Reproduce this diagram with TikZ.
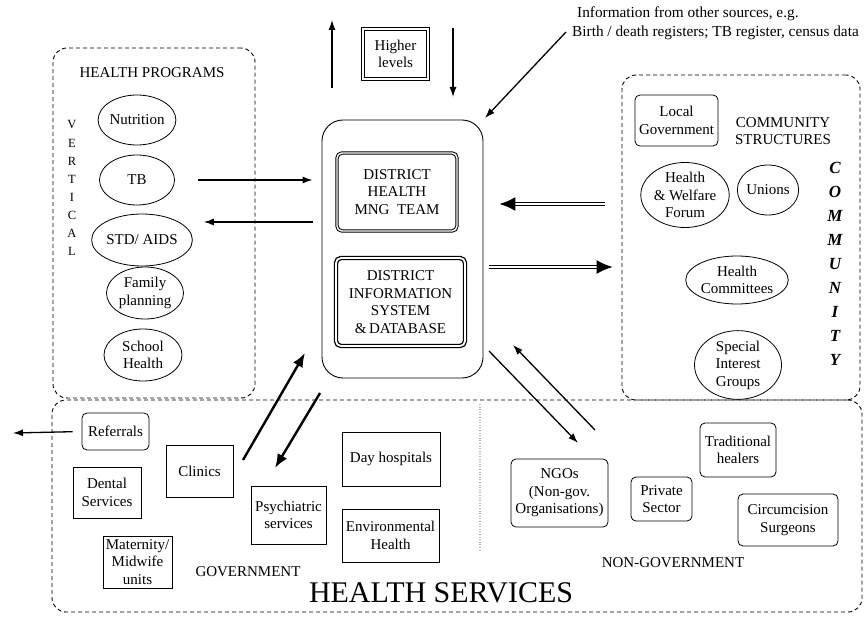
\documentclass[tikz,border=0pt]{standalone}
\usepackage{fontspec}
\setmainfont{Liberation Serif}
\usetikzlibrary{arrows.meta,shapes.geometric}

\begin{document}
\begin{tikzpicture}[x=1pt,y=-1pt,
  txt/.style={font=\fontsize{15}{17.5}\selectfont, align=center, inner sep=0pt},
  grp/.style={draw, dash pattern=on 4pt off 3pt, line width=0.9pt, rounded corners=14pt, inner sep=0pt},
  oval/.style={txt, draw, ellipse, line width=0.8pt},
  box/.style={txt, draw, rectangle, line width=0.8pt},
  rbox/.style={box, rounded corners=5pt},
  arr/.style={line width=1.3pt, -{Latex[length=10pt,width=7pt]}},
  bigarr/.style={line width=2.4pt, -{Latex[length=14pt,width=11pt]}},
  dblarr/.style={double, double distance=1.6pt, line width=1.4pt, -{Latex[length=16pt,width=14pt]}},
  letter/.style={font=\fontsize{12.5}{12.5}\selectfont, inner sep=0pt},
  cletter/.style={font=\fontsize{17}{17}\selectfont\bfseries\itshape, inner sep=0pt}
]
\useasboundingbox (0,0) rectangle (864,620);

% ---- group frames ----
\node[grp, minimum width=202pt, minimum height=350pt] (hp) at (154,223) {};
\node[grp, minimum width=238pt, minimum height=325pt] (comm) at (741,237.5) {};
\node[grp, minimum width=810pt, minimum height=212pt] (hs) at (457,506) {};
\draw[gray!55, line width=1.6pt, dash pattern=on 1pt off 1.6pt] (480,404) -- (480,550);

% ---- health programs ----
\node[txt] (hptitle) at (152,73) {HEALTH PROGRAMS};
\foreach \l [count=\i from 0] in {V,E,R,T,I,C,A,L}
  \node[letter] (vert\i) at (72,125+18.1*\i) {\l};
\node[oval, minimum width=75pt, minimum height=50pt] (nut) at (137,120) {Nutrition};
\node[oval, minimum width=75pt, minimum height=50pt] (tb) at (137,180) {TB};
\node[oval, minimum width=84pt, minimum height=52pt] (std) at (142,240) {STD/ AIDS};
\node[oval, minimum width=77pt, minimum height=52pt] (fam) at (145,293) {Family\\planning};
\node[oval, minimum width=78pt, minimum height=52pt] (sch) at (143,355) {School\\Health};

% ---- district core ----
\node[draw, line width=0.9pt, rounded corners=21pt, minimum width=161pt, minimum height=258pt] (main) at (402.5,249) {};
\node[box, rounded corners=5pt, double, double distance=1.4pt, line width=1pt,
      minimum width=120pt, minimum height=78pt] (dhmt) at (397,192) {DISTRICT\\HEALTH\\MNG\ \ TEAM};
\node[box, rounded corners=5pt, double, double distance=1.8pt, line width=1.3pt,
      minimum width=129pt, minimum height=88pt] (dis) at (400.5,302) {DISTRICT\\INFORMATION\\SYSTEM\\\&\,DATABASE};
\node[box, double, double distance=1.4pt, line width=0.9pt,
      minimum width=65pt, minimum height=50pt] (higher) at (395.5,54) {Higher\\levels};

% ---- other sources ----
\node[font=\fontsize{15.3}{19}\selectfont, align=left, inner sep=0pt, anchor=north west] (info) at (572,7)
  {\hspace*{5pt}Information from other sources, e.g.\\Birth / death registers; TB register, census data};

% ---- community ----
\node[rbox, minimum width=83pt, minimum height=51pt] (localgov) at (676.5,120.5) {Local\\Government};
\node[txt] (cstruct) at (783,131) {COMMUNITY\\STRUCTURES};
\node[oval, minimum width=84pt, minimum height=65pt] (hwf) at (685,195) {Health\\\&\ Welfare\\Forum};
\node[oval, minimum width=52pt, minimum height=50pt] (unions) at (768,190) {Unions};
\node[oval, minimum width=84pt, minimum height=48pt] (hc) at (737,280) {Health\\Committees};
\node[oval, minimum width=87pt, minimum height=58pt] (sig) at (738,365) {Special\\Interest\\Groups};
\foreach \l [count=\i from 0] in {C,O,M,M,U,N,I,T,Y}
  \node[cletter] (com\i) at (835,168+24*\i) {\l};

% ---- government services ----
\node[rbox, minimum width=67pt, minimum height=37pt] (ref) at (115.5,431.5) {Referrals};
\node[box, minimum width=67pt, minimum height=52pt] (clin) at (199.5,471) {Clinics};
\node[box, minimum width=68pt, minimum height=51pt] (dent) at (107,492.5) {Dental\\Services};
\node[box, minimum width=69pt, minimum height=52pt] (mat) at (137.5,562) {Maternity/\\Midwife\\units};
\node[box, minimum width=75pt, minimum height=58pt] (psy) at (288.5,515) {Psychiatric\\services};
\node[box, minimum width=98pt, minimum height=54pt] (day) at (391,459) {Day hospitals};
\node[box, minimum width=97pt, minimum height=53pt] (env) at (390.5,535.5) {Environmental\\Health};
\node[txt] (gov) at (248,572) {GOVERNMENT};
\node[font=\fontsize{30}{30}\selectfont, inner sep=0pt] (hstitle) at (441,593) {HEALTH SERVICES};

% ---- non-government services ----
\node[rbox, minimum width=97pt, minimum height=68pt] (ngo) at (559.5,493) {NGOs\\(Non-gov.\\Organisations)};
\node[rbox, minimum width=61pt, minimum height=44pt] (priv) at (661.5,499) {Private\\Sector};
\node[rbox, minimum width=76pt, minimum height=54pt] (trad) at (738,450) {Traditional\\healers};
\node[rbox, minimum width=100pt, minimum height=52pt] (circ) at (788,520) {Circumcision\\Surgeons};
\node[txt] (ngov) at (673,563) {NON-GOVERNMENT};

% ---- connector end points ----
\coordinate (upA) at (332,88);   \coordinate (upB) at (332,20);
\coordinate (dnA) at (453,28);   \coordinate (dnB) at (453,97);
\coordinate (infoA) at (566,32); \coordinate (infoB) at (485,118);
\coordinate (clinA) at (243,460); \coordinate (clinB) at (305,353);
\coordinate (psyA) at (320,393);  \coordinate (psyB) at (275,468);
\coordinate (ngoA) at (489,351);  \coordinate (ngoB) at (578,443);
\coordinate (ngoC) at (595,430);  \coordinate (ngoD) at (513,345);
\coordinate (refB) at (13,433);

% ---- connectors ----
\draw[arr] (upA) -- (upB);
\draw[arr] (dnA) -- (dnB);
\draw[arr] (infoA) -- (infoB);
\draw[arr, shorten <=23pt, shorten >=9pt] (tb.east) -- (main.west |- tb.east);
\draw[arr, shorten <=9pt, shorten >=11pt] (main.west |- 0,222) -- (std.east |- 0,222);
\draw[dblarr, shorten <=17pt, shorten >=16pt] (comm.west |- 0,204) -- (main.east |- 0,204);
\draw[dblarr, shorten <=6pt, shorten >=9pt] (main.east |- 0,267) -- (comm.west |- 0,267);
\draw[bigarr] (clinA) -- (clinB);
\draw[bigarr] (psyA) -- (psyB);
\draw[arr] (ngoA) -- (ngoB);
\draw[arr] (ngoC) -- (ngoD);
\draw[arr, shorten <=9pt] (ref.west) -- (refB);
\end{tikzpicture}
\end{document}
